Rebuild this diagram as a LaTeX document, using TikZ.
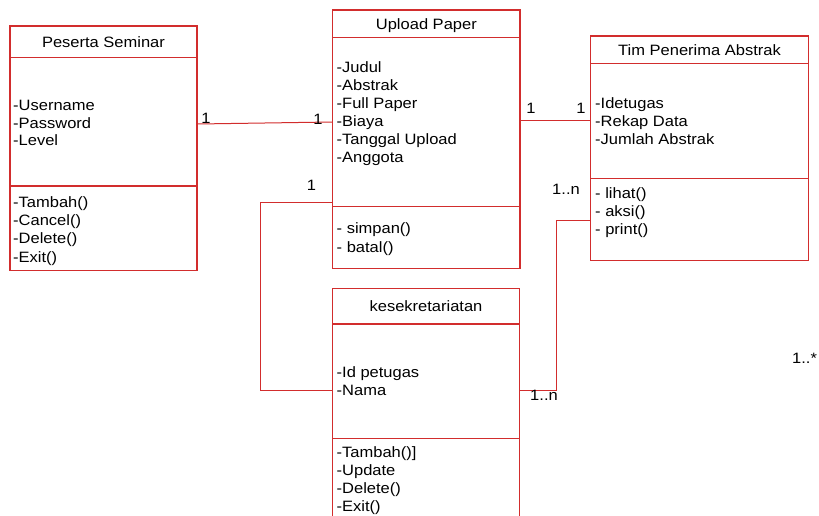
\documentclass[tikz,border=0pt]{standalone}
\usepackage{fontspec}
\setmainfont[FakeStretch=1.1]{Liberation Sans}
\definecolor{umlred}{RGB}{210,45,45}
\begin{document}
\begin{tikzpicture}[x=1pt,y=-1pt,
  box/.style={draw=umlred,line width=1.2pt,rectangle,inner sep=0pt},
  sep/.style={draw=umlred,line width=1.2pt},
  conn/.style={draw=umlred,line width=1pt},
  txt/.style={anchor=west,inner sep=0pt,text height=11pt,text depth=0pt,font=\fontsize{15}{18}\selectfont},
  ttl/.style={anchor=center,inner sep=0pt,text height=11pt,text depth=0pt,font=\fontsize{15}{18}\selectfont},
  mult/.style={anchor=center,inner sep=0pt,text height=11pt,text depth=0pt,font=\fontsize{15}{18}\selectfont}]
\useasboundingbox (0,0) rectangle (819,516);
\fill[white] (0,0) rectangle (819,516);

% Peserta Seminar
\node[box,minimum width=187pt,minimum height=244.5pt] (ps) at (103.5,148.25) {};
\draw[sep] (ps.west |- 0,57.5) -- (ps.east |- 0,57.5);
\draw[sep] (ps.west |- 0,186) -- (ps.east |- 0,186);
\node[ttl] (ps-t) at (103.5,42) {Peserta Seminar};
\foreach \t [count=\i from 0] in {-Username,-Password,-Level}
  \node[txt] (ps-a\i) at (13,{105+17.6*\i}) {\t};
\foreach \t [count=\i from 0] in {-Tambah(),-Cancel(),-Delete(),-Exit()}
  \node[txt] (ps-m\i) at (13,{201.7+18.3*\i}) {\t};

% Upload Paper
\node[box,minimum width=187.3pt,minimum height=258.3pt] (up) at (426.35,139.15) {};
\draw[sep] (up.west |- 0,37.7) -- (up.east |- 0,37.7);
\draw[sep] (up.west |- 0,206.7) -- (up.east |- 0,206.7);
\node[ttl] (up-t) at (426.35,24) {Upload Paper};
\foreach \t [count=\i from 0] in {-Judul,-Abstrak,-Full Paper,-Biaya,-Tanggal Upload,-Anggota}
  \node[txt] (up-a\i) at (336.5,{66.7+18.1*\i}) {\t};
\foreach \t [count=\i from 0] in {- simpan(),- batal()}
  \node[txt] (up-m\i) at (336.5,{228.3+18.4*\i}) {\t};

% Tim Penerima Abstrak
\node[box,minimum width=217.6pt,minimum height=224.7pt] (tim) at (699.5,148.35) {};
\draw[sep] (tim.west |- 0,63.3) -- (tim.east |- 0,63.3);
\draw[sep] (tim.west |- 0,178.3) -- (tim.east |- 0,178.3);
\node[ttl] (tim-t) at (699.5,50) {Tim Penerima Abstrak};
\foreach \t [count=\i from 0] in {-Idetugas,-Rekap Data,-Jumlah Abstrak}
  \node[txt] (tim-a\i) at (595,{102.7+18*\i}) {\t};
\foreach \t [count=\i from 0] in {- lihat(),- aksi(),- print()}
  \node[txt] (tim-m\i) at (595,{192.7+18.3*\i}) {\t};

% kesekretariatan
\node[box,minimum width=186.6pt,minimum height=241.7pt] (kes) at (426,409.15) {};
\draw[sep] (kes.west |- 0,324) -- (kes.east |- 0,324);
\draw[sep] (kes.west |- 0,438.3) -- (kes.east |- 0,438.3);
\node[ttl] (kes-t) at (426,306) {kesekretariatan};
\foreach \t [count=\i from 0] in {-Id petugas,-Nama}
  \node[txt] (kes-a\i) at (336.5,{371.7+18.3*\i}) {\t};
\foreach \t [count=\i from 0] in {-Tambah()],-Update,-Delete(),-Exit()}
  \node[txt] (kes-m\i) at (336.5,{451.7+18.1*\i}) {\t};

% connector end points
\coordinate (ps-r) at (ps.east |- 0,124);
\coordinate (up-l) at (up.west |- 0,122);
\coordinate (up-r) at (up.east |- 0,121);
\coordinate (tim-l) at (tim.west |- 0,121);
\coordinate (up-l2) at (up.west |- 0,202.7);
\coordinate (kes-l) at (kes.west |- 0,390);
\coordinate (kes-r) at (kes.east |- 0,390);
\coordinate (tim-l2) at (tim.west |- 0,220);
\coordinate (bendL) at (260.7,202.7);
\coordinate (bendR) at (556,390);

\draw[conn] (ps-r) -- (up-l);
\draw[conn] (up-r) -- (tim-l);
\draw[conn] (up-l2) -- (bendL) |- (kes-l);
\draw[conn] (kes-r) -- (bendR) |- (tim-l2);

% multiplicities
\node[mult] (m1) at (206,118) {1};
\node[mult] (m2) at (318,119) {1};
\node[mult] (m3) at (531,108) {1};
\node[mult] (m4) at (581,108) {1};
\node[mult] (m5) at (311.5,185) {1};
\node[mult] (m6) at (566,188.5) {1..n};
\node[mult] (m7) at (544,395) {1..n};
\node[mult,anchor=west] (m8) at (792,358) {1..*};
\end{tikzpicture}
\end{document}
